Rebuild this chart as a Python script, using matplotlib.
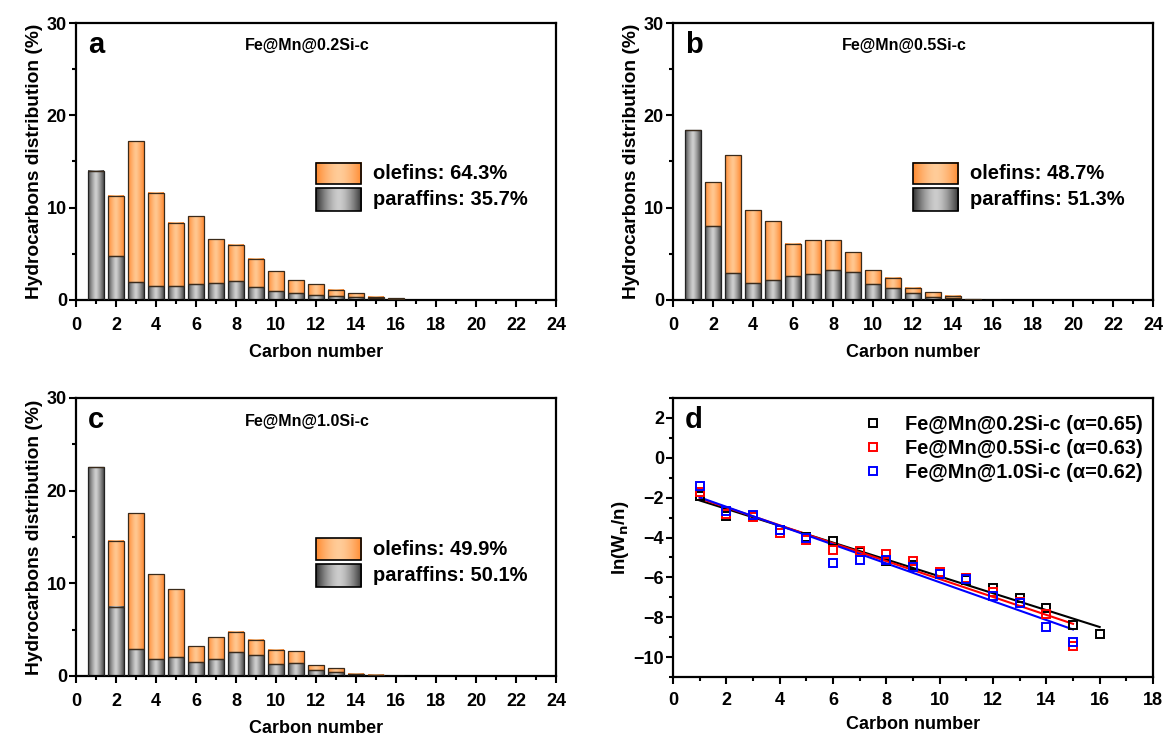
import numpy as np
import matplotlib
matplotlib.use("Agg")
import matplotlib.pyplot as plt
from matplotlib.ticker import MultipleLocator
from matplotlib.colors import to_rgb

plt.rcParams['font.family'] = ['Liberation Sans', 'DejaVu Sans']
plt.rcParams['font.weight'] = 'bold'

# ---------------- data ----------------
carbon = list(range(1, 17))

# panel a: Fe@Mn@0.2Si-c
a_total = [14.0, 11.3, 17.2, 11.6, 8.35, 9.1, 6.6, 6.0, 4.45, 3.1, 2.15, 1.75, 1.05, 0.72, 0.29, 0.18]
a_paraf = [14.0, 4.8, 2.0, 1.5, 1.5, 1.75, 1.85, 2.1, 1.4, 0.98, 0.8, 0.57, 0.4, 0.32, 0.18, 0.1]

# panel b: Fe@Mn@0.5Si-c
b_total = [18.4, 12.8, 15.7, 9.7, 8.55, 6.1, 6.5, 6.45, 5.2, 3.2, 2.4, 1.33, 0.83, 0.47, 0.08, 0.0]
b_paraf = [18.4, 8.05, 2.95, 1.85, 2.2, 2.55, 2.85, 3.3, 3.05, 1.7, 1.25, 0.72, 0.37, 0.21, 0.05, 0.0]

# panel c: Fe@Mn@1.0Si-c
c_total = [22.5, 14.6, 17.6, 11.0, 9.4, 3.2, 4.25, 4.8, 3.9, 2.85, 2.65, 1.15, 0.87, 0.26, 0.14, 0.0]
c_paraf = [22.5, 7.5, 2.95, 1.88, 2.1, 1.55, 1.88, 2.6, 2.28, 1.27, 1.45, 0.62, 0.47, 0.2, 0.08, 0.0]

bar_titles = ["Fe@Mn@0.2Si-c", "Fe@Mn@0.5Si-c", "Fe@Mn@1.0Si-c"]
olefin_pct = ["64.3%", "48.7%", "49.9%"]
paraffin_pct = ["35.7%", "51.3%", "50.1%"]

# panel d: ln(Wn/n)
d_black_x = list(range(1, 17))
d_black_y = [-1.9, -2.92, -2.9, -3.6, -3.98, -4.2, -4.72, -5.17, -5.4, -5.81, -6.13, -6.52, -7.05, -7.52, -8.41, -8.82]
d_red_x = list(range(1, 16))
d_red_y = [-1.73, -2.82, -2.99, -3.75, -4.13, -4.63, -4.67, -4.84, -5.17, -5.71, -6.05, -6.72, -7.24, -7.86, -9.46]
d_blue_x = list(range(1, 16))
d_blue_y = [-1.43, -2.69, -2.86, -3.63, -4.0, -5.28, -5.14, -5.12, -5.46, -5.85, -6.07, -6.94, -7.29, -8.5, -9.24]
d_labels = ["Fe@Mn@0.2Si-c (α=0.65)", "Fe@Mn@0.5Si-c (α=0.63)", "Fe@Mn@1.0Si-c (α=0.62)"]
d_colors = ["black", "#ff0000", "#0000ff"]

# ---------------- helpers ----------------
def gradient(edge, center, n=64, power=1.6):
    e = np.array(to_rgb(edge)); c = np.array(to_rgb(center))
    t = np.linspace(0, 1, n)
    m = 1 - np.abs(2 * t - 1) ** power
    cols = e[None, :] * (1 - m[:, None]) + c[None, :] * m[:, None]
    return cols[None, :, :]

GRAY = gradient('#333333', '#cccccc')
ORANGE = gradient('#ff8a30', '#ffcc99')
GRAY_BAR = gradient('#4a4a4a', '#d0d0d0', power=1.3)
ORANGE_BAR = gradient('#ff8a34', '#ffc891', power=1.3)


def fill_bars(ax, container, img):
    for p in container.patches:
        h = p.get_height()
        if h <= 0:
            continue
        x0 = p.get_x(); w = p.get_width(); y0 = p.get_y()
        ax.imshow(img, extent=[x0, x0 + w, y0, y0 + h], aspect='auto',
                  interpolation='bilinear', zorder=2)


def style_axes(ax):
    for s in ax.spines.values():
        s.set_linewidth(1.6)
    ax.tick_params(which='both', direction='out', top=False, right=False,
                   width=1.5, labelsize=13)
    ax.tick_params(which='major', length=5)
    ax.tick_params(which='minor', length=3)
    ax.tick_params(axis='x', which='major', pad=7.5)
    ax.tick_params(axis='y', which='major', pad=1.5)
    for lab in ax.get_xticklabels() + ax.get_yticklabels():
        lab.set_fontweight('bold')


fig = plt.figure(figsize=(11.67, 7.36), dpi=100)
W, H = 1167, 736
def box(l, r, t, b):
    return [l / W, 1 - b / H, (r - l) / W, (b - t) / H]

axa = fig.add_axes(box(76, 556, 23, 300))
axb = fig.add_axes(box(673, 1153, 23, 300))
axc = fig.add_axes(box(76, 556, 398, 676))
axd = fig.add_axes(box(673, 1153, 398, 677))

letters = ['a', 'b', 'c']
for i, (ax, tot, par) in enumerate(zip([axa, axb, axc],
                                       [a_total, b_total, c_total],
                                       [a_paraf, b_paraf, c_paraf])):
    ole = [t - p for t, p in zip(tot, par)]
    bp = ax.bar(carbon, par, width=0.8, color='none', edgecolor='#222222',
                linewidth=0.9, zorder=3)
    bo = ax.bar(carbon, ole, bottom=par, width=0.8, color='none',
                edgecolor='#3a2a1a', linewidth=0.9, zorder=3)
    fill_bars(ax, bp, GRAY_BAR)
    fill_bars(ax, bo, ORANGE_BAR)
    ax.set_xlim(0, 24)
    ax.set_ylim(0, 30)
    ax.xaxis.set_major_locator(MultipleLocator(2))
    ax.xaxis.set_minor_locator(MultipleLocator(1))
    ax.yaxis.set_major_locator(MultipleLocator(10))
    ax.yaxis.set_minor_locator(MultipleLocator(5))
    style_axes(ax)
    ax.set_xlabel('Carbon number', fontsize=13, fontweight='bold', labelpad=7)
    ax.set_ylabel('Hydrocarbons distribution (%)', fontsize=13.8,
                  fontweight='bold', labelpad=3)
    ax.text(0.025, 0.92, letters[i], transform=ax.transAxes, fontsize=21,
            fontweight='bold', va='center', ha='left')
    ax.text(0.482, 0.917, bar_titles[i], transform=ax.transAxes, fontsize=11.5,
            fontweight='bold', va='center', ha='center')
    # legend drawn by hand with gradient swatches
    for img, y0, y1, txt in [(ORANGE, 0.417, 0.495, 'olefins: ' + olefin_pct[i]),
                              (GRAY, 0.321, 0.403, 'paraffins: ' + paraffin_pct[i])]:
        ax.imshow(img, extent=[0.5, 0.594, y0, y1], transform=ax.transAxes,
                  aspect='auto', interpolation='bilinear', zorder=4)
        ax.add_patch(plt.Rectangle((0.5, y0), 0.094, y1 - y0, transform=ax.transAxes,
                                   fill=False, edgecolor='black', linewidth=1.2, zorder=5))
        ax.text(0.618, (y0 + y1) / 2, txt, transform=ax.transAxes, fontsize=14.5,
                fontweight='bold', va='center', ha='left')
    ax.set_xlim(0, 24)
    ax.set_ylim(0, 30)

# panel d
for xs, ys, col, lab in zip([d_black_x, d_red_x, d_blue_x],
                            [d_black_y, d_red_y, d_blue_y], d_colors, d_labels):
    axd.plot(xs, ys, linestyle='none', marker='s', markersize=5.5,
             markerfacecolor='none', markeredgecolor=col, markeredgewidth=1.4,
             label=lab, zorder=3)
    k, b0 = np.polyfit(xs, ys, 1)
    xa = np.array([xs[0], xs[-1]])
    axd.plot(xa, k * xa + b0, color=col, linewidth=1.5, zorder=2)

axd.set_xlim(0, 18)
axd.set_ylim(-11, 3)
axd.xaxis.set_major_locator(MultipleLocator(2))
axd.xaxis.set_minor_locator(MultipleLocator(1))
axd.yaxis.set_major_locator(MultipleLocator(2))
axd.yaxis.set_minor_locator(MultipleLocator(1))
style_axes(axd)
axd.tick_params(axis='x', which='major', pad=6)
axd.set_xlabel('Carbon number', fontsize=13, fontweight='bold', labelpad=5)
axd.set_ylabel('ln(W$_\\mathbf{n}$/n)', fontsize=13.5, fontweight='bold', labelpad=2)
axd.text(0.025, 0.922, 'd', transform=axd.transAxes, fontsize=21,
         fontweight='bold', va='center', ha='left')
leg = axd.legend(loc='upper right', bbox_to_anchor=(1.008, 0.99), frameon=False,
                 prop={'size': 14.4, 'weight': 'bold'},
                 handlelength=1.0, handletextpad=1.1, labelspacing=0.25,
                 borderaxespad=0.3, numpoints=1)

fig.savefig('out.png', dpi=100)
